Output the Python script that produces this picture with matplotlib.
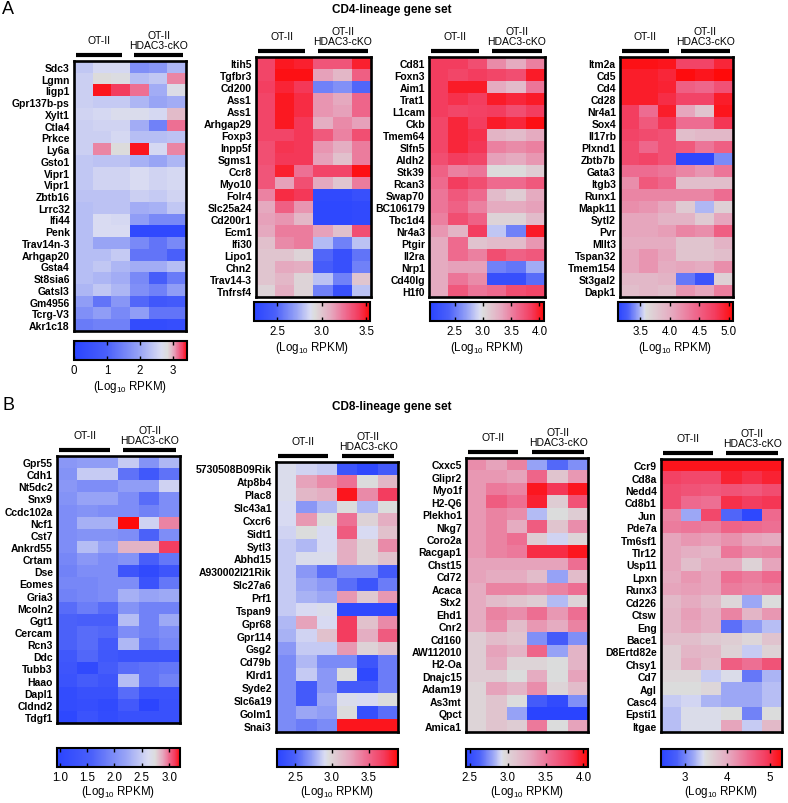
import numpy as np
import matplotlib
matplotlib.use('Agg')
import matplotlib.pyplot as plt
from matplotlib.colors import LinearSegmentedColormap, Normalize
from matplotlib.lines import Line2D
from matplotlib.cm import ScalarMappable

plt.rcParams['font.family'] = ['Liberation Sans', 'DejaVu Sans']
plt.rcParams['mathtext.fontset'] = 'custom'
plt.rcParams['mathtext.rm'] = 'Liberation Sans'

# ---------------- data (log10 RPKM, 3 OT-II + 3 OT-II HDAC3-cKO) ----------------
a1_genes = ['Sdc3', 'Lgmn', 'Iigp1', 'Gpr137b-ps', 'Xylt1', 'Ctla4', 'Prkce', 'Ly6a',
            'Gsto1', 'Vipr1', 'Vipr1', 'Zbtb16', 'Lrrc32', 'Ifi44', 'Penk', 'Trav14n-3',
            'Arhgap20', 'Gsta4', 'St8sia6', 'Gatsl3', 'Gm4956', 'Tcrg-V3', 'Akr1c18']
a1_vals = [[2.4, 2.6, 2.6, 1.7, 1.8, 2.2],
           [2.5, 2.85, 2.8, 2.3, 2.4, 3.1],
           [2.5, 3.4, 3.3, 3.15, 2.1, 2.75],
           [2.5, 2.45, 2.45, 2.2, 2.0, 2.1],
           [2.55, 2.6, 2.7, 2.7, 2.6, 2.95],
           [2.5, 2.55, 2.55, 2.1, 1.5, 3.15],
           [2.5, 2.5, 2.6, 2.3, 2.3, 2.35],
           [2.5, 3.1, 2.85, 3.4, 2.6, 3.1],
           [2.4, 2.35, 2.35, 2.15, 2.0, 2.2],
           [2.4, 2.55, 2.55, 2.65, 2.55, 2.6],
           [2.4, 2.55, 2.55, 2.65, 2.55, 2.6],
           [2.35, 2.35, 2.35, 2.5, 2.45, 2.55],
           [2.3, 2.35, 2.35, 2.1, 2.15, 2.4],
           [2.3, 2.65, 2.6, 1.9, 1.6, 1.6],
           [2.3, 2.65, 2.65, 0.2, 0.2, 0.2],
           [2.3, 2.0, 2.0, 1.6, 1.3, 1.6],
           [2.3, 2.3, 2.45, 1.3, 1.3, 1.0],
           [2.3, 2.4, 2.2, 2.1, 2.1, 2.3],
           [2.3, 2.2, 2.1, 1.6, 0.9, 1.4],
           [2.2, 2.4, 2.2, 1.7, 1.5, 1.9],
           [1.9, 1.3, 1.8, 1.1, 0.7, 0.8],
           [1.7, 1.9, 1.6, 1.9, 1.3, 1.3],
           [1.4, 1.5, 1.5, 0.3, 0.3, 0.4]]

a2_genes = ['Itih5', 'Tgfbr3', 'Cd200', 'Ass1', 'Ass1', 'Arhgap29', 'Foxp3', 'Inpp5f',
            'Sgms1', 'Ccr8', 'Myo10', 'Folr4', 'Slc25a24', 'Cd200r1', 'Ecm1', 'Ifi30',
            'Lipo1', 'Chn2', 'Trav14-3', 'Tnfrsf4']
a2_vals = [[3.38, 3.5, 3.48, 3.33, 3.33, 3.48],
           [3.38, 3.52, 3.52, 3.12, 3.05, 3.3],
           [3.4, 3.47, 3.42, 2.6, 2.65, 2.5],
           [3.38, 3.5, 3.45, 3.15, 3.1, 3.28],
           [3.38, 3.5, 3.45, 3.15, 3.12, 3.28],
           [3.38, 3.5, 3.42, 3.08, 3.18, 3.12],
           [3.38, 3.38, 3.42, 3.32, 3.2, 3.35],
           [3.35, 3.43, 3.42, 3.15, 3.08, 3.22],
           [3.35, 3.42, 3.42, 3.12, 3.02, 3.22],
           [3.33, 3.48, 3.25, 3.38, 3.38, 3.52],
           [3.33, 3.12, 3.35, 3.1, 3.0, 3.22],
           [3.2, 3.45, 3.42, 2.3, 2.3, 2.35],
           [3.1, 3.3, 3.15, 2.28, 2.28, 2.3],
           [3.12, 3.15, 3.05, 2.28, 2.28, 2.3],
           [3.1, 3.22, 3.22, 3.12, 3.02, 3.35],
           [3.02, 3.18, 3.22, 2.78, 2.6, 2.8],
           [3.0, 3.0, 2.95, 2.5, 2.35, 2.55],
           [3.0, 3.1, 3.08, 2.45, 2.35, 2.6],
           [3.0, 3.05, 2.95, 2.8, 2.6, 3.0],
           [2.95, 3.08, 2.95, 2.6, 2.35, 2.8]]

a3_genes = ['Cd81', 'Foxn3', 'Aim1', 'Trat1', 'L1cam', 'Ckb', 'Tmem64', 'Slfn5', 'Aldh2',
            'Stk39', 'Rcan3', 'Swap70', 'BC106179', 'Tbc1d4', 'Nr4a3', 'Ptgir', 'Il2ra',
            'Nrp1', 'Cd40lg', 'H1f0']
a3_vals = [[3.85, 3.85, 3.75, 3.45, 3.3, 3.5],
           [3.85, 3.8, 3.85, 3.8, 3.75, 4.0],
           [3.85, 4.0, 4.0, 3.3, 3.2, 3.55],
           [3.85, 3.9, 3.85, 4.0, 3.95, 4.0],
           [3.85, 3.8, 3.82, 3.85, 3.75, 3.85],
           [3.8, 3.95, 3.85, 4.0, 3.95, 4.05],
           [3.8, 3.95, 3.9, 3.25, 3.2, 3.3],
           [3.8, 3.95, 3.88, 3.5, 3.45, 3.5],
           [3.75, 3.85, 3.8, 3.35, 3.3, 3.4],
           [3.65, 3.5, 3.55, 3.0, 3.0, 3.1],
           [3.6, 3.85, 3.75, 3.6, 3.6, 3.7],
           [3.55, 3.7, 3.6, 3.2, 3.1, 3.3],
           [3.55, 3.65, 3.5, 3.3, 3.3, 3.35],
           [3.5, 3.75, 3.65, 3.05, 3.05, 3.2],
           [3.4, 3.25, 3.85, 2.85, 2.55, 4.0],
           [3.3, 3.6, 3.15, 3.2, 3.2, 3.4],
           [3.3, 3.6, 3.5, 3.75, 3.65, 3.7],
           [3.3, 3.35, 3.35, 2.55, 2.5, 2.75],
           [3.3, 3.55, 3.45, 2.2, 2.2, 2.45],
           [3.3, 3.7, 3.55, 3.6, 3.75, 3.8]]

a4_genes = ['Itm2a', 'Cd5', 'Cd4', 'Cd28', 'Nr4a1', 'Sox4', 'Il17rb', 'Plxnd1', 'Zbtb7b',
            'Gata3', 'Itgb3', 'Runx1', 'Mapk11', 'Sytl2', 'Pvr', 'Mllt3', 'Tspan32',
            'Tmem154', 'St3gal2', 'Dapk1']
a4_vals = [[5.02, 5.02, 5.0, 4.7, 4.7, 4.9],
           [4.95, 4.95, 4.9, 5.05, 5.0, 5.07],
           [4.95, 4.95, 4.92, 4.5, 4.45, 4.6],
           [4.95, 4.95, 4.85, 4.7, 4.7, 4.95],
           [4.75, 4.4, 4.95, 4.05, 3.8, 5.0],
           [4.75, 4.55, 4.8, 4.4, 4.4, 4.8],
           [4.7, 4.65, 4.6, 3.85, 3.9, 3.9],
           [4.65, 4.45, 4.6, 4.55, 4.35, 4.5],
           [4.65, 4.7, 4.6, 3.15, 3.15, 3.4],
           [4.4, 4.4, 4.35, 4.25, 4.15, 4.35],
           [4.2, 4.55, 4.45, 3.85, 3.85, 3.85],
           [4.25, 4.25, 4.25, 4.25, 4.25, 4.4],
           [4.2, 4.15, 4.05, 3.75, 3.5, 3.7],
           [4.05, 4.05, 3.95, 3.95, 3.75, 4.05],
           [4.05, 4.05, 4.1, 4.25, 4.2, 4.5],
           [4.0, 4.0, 4.0, 3.8, 3.8, 3.95],
           [4.05, 4.15, 4.05, 3.8, 3.8, 3.85],
           [4.05, 4.15, 4.0, 4.05, 4.0, 4.2],
           [3.9, 3.9, 3.95, 3.35, 3.22, 3.7],
           [3.85, 3.9, 3.85, 4.15, 4.05, 4.3]]

b1_genes = ['Gpr55', 'Cdh1', 'Nt5dc2', 'Snx9', 'Ccdc102a', 'Ncf1', 'Cst7', 'Ankrd55',
            'Crtam', 'Dse', 'Eomes', 'Gria3', 'Mcoln2', 'Ggt1', 'Cercam', 'Rcn3', 'Ddc',
            'Tubb3', 'Haao', 'Dapl1', 'Cldnd2', 'Tdgf1']
b1_vals = [[2.1, 2.15, 2.15, 2.5, 2.05, 2.35],
           [2.05, 2.5, 2.5, 1.75, 1.4, 1.75],
           [2.1, 2.0, 2.0, 2.15, 2.15, 2.55],
           [2.05, 2.2, 2.2, 2.0, 1.7, 2.0],
           [2.0, 2.05, 2.0, 2.0, 1.9, 2.0],
           [2.0, 2.3, 2.3, 3.2, 2.55, 2.95],
           [2.0, 2.05, 2.05, 2.0, 1.6, 2.0],
           [2.0, 2.4, 2.2, 2.85, 2.85, 3.1],
           [1.95, 2.1, 2.0, 2.05, 1.55, 1.8],
           [1.9, 2.0, 2.0, 1.35, 1.1, 1.35],
           [1.95, 1.95, 2.0, 2.0, 1.3, 1.8],
           [1.9, 1.95, 2.0, 2.3, 2.2, 2.25],
           [1.7, 1.85, 1.7, 2.05, 1.9, 1.9],
           [1.6, 1.55, 1.55, 2.4, 1.9, 2.25],
           [1.6, 1.7, 1.65, 2.0, 1.9, 2.0],
           [1.6, 1.7, 1.45, 2.35, 1.8, 1.95],
           [1.4, 1.65, 1.4, 1.3, 1.3, 1.3],
           [1.35, 1.1, 1.5, 1.7, 1.75, 1.8],
           [1.3, 1.5, 1.35, 2.4, 1.75, 1.9],
           [1.15, 1.25, 1.25, 1.7, 1.3, 1.3],
           [1.15, 1.2, 1.1, 1.45, 1.0, 1.25],
           [1.05, 1.3, 1.15, 1.25, 1.25, 1.25]]

b2_genes = ['5730508B09Rik', 'Atp8b4', 'Plac8', 'Slc43a1', 'Cxcr6', 'Sidt1', 'Sytl3',
            'Abhd15', 'A930002I21Rik', 'Slc27a6', 'Prf1', 'Tspan9', 'Gpr68', 'Gpr114',
            'Gsg2', 'Cd79b', 'Klrd1', 'Syde2', 'Slc6a19', 'Golm1', 'Snai3']
b2_vals = [[2.92, 2.88, 2.85, 2.4, 2.3, 2.45],
           [2.92, 3.25, 3.35, 3.45, 2.95, 3.15],
           [2.92, 3.15, 3.2, 3.85, 3.35, 3.7],
           [2.9, 2.7, 2.8, 2.95, 2.8, 2.95],
           [2.9, 3.3, 2.95, 3.45, 3.0, 3.2],
           [2.88, 2.95, 2.9, 3.55, 2.9, 3.1],
           [2.85, 2.8, 2.9, 3.2, 3.0, 3.35],
           [2.85, 2.92, 2.92, 3.2, 3.0, 3.1],
           [2.85, 2.7, 2.55, 2.65, 2.65, 2.45],
           [2.85, 2.75, 2.7, 2.55, 2.4, 2.6],
           [2.85, 2.78, 2.75, 3.3, 3.05, 3.3],
           [2.85, 2.9, 2.92, 2.3, 2.3, 2.3],
           [2.8, 3.25, 2.9, 3.7, 3.1, 3.35],
           [2.78, 2.88, 3.1, 3.7, 3.2, 3.55],
           [2.7, 2.85, 2.85, 3.3, 3.0, 3.1],
           [2.65, 2.8, 2.65, 2.65, 2.4, 2.6],
           [2.65, 2.85, 2.7, 2.95, 2.3, 2.6],
           [2.65, 2.45, 2.7, 2.45, 2.45, 2.6],
           [2.65, 2.45, 2.75, 2.92, 2.9, 2.95],
           [2.65, 2.75, 2.72, 2.95, 2.35, 2.55],
           [2.65, 2.6, 2.65, 3.85, 3.85, 3.85]]

b3_genes = ['Cxxc5', 'Glipr2', 'Myo1f', 'H2-Q6', 'Plekho1', 'Nkg7', 'Coro2a', 'Racgap1',
            'Chst15', 'Cd72', 'Acaca', 'Stx2', 'Ehd1', 'Cnr2', 'Cd160', 'AW112010', 'H2-Oa',
            'Dnajc15', 'Adam19', 'As3mt', 'Qpct', 'Amica1']
b3_vals = [[3.4, 3.3, 3.45, 2.8, 2.65, 2.75],
           [3.35, 3.35, 3.3, 3.6, 3.1, 3.35],
           [3.35, 3.5, 3.45, 4.0, 3.85, 4.0],
           [3.35, 3.65, 3.55, 3.95, 3.05, 3.7],
           [3.35, 3.45, 3.4, 2.85, 2.95, 3.05],
           [3.35, 3.45, 3.25, 3.65, 3.1, 3.4],
           [3.35, 3.45, 3.55, 3.05, 2.9, 3.0],
           [3.35, 3.45, 3.5, 3.9, 3.9, 4.0],
           [3.3, 3.3, 3.3, 3.3, 3.3, 3.55],
           [3.3, 3.25, 3.25, 3.15, 2.8, 3.15],
           [3.25, 3.45, 3.45, 3.4, 3.45, 3.55],
           [3.25, 3.15, 3.1, 3.05, 2.85, 3.0],
           [3.25, 3.45, 3.4, 3.55, 3.35, 3.55],
           [3.25, 3.4, 3.15, 3.35, 3.25, 3.45],
           [3.05, 3.15, 3.1, 2.75, 2.6, 2.75],
           [3.05, 3.3, 3.2, 3.6, 2.8, 3.2],
           [3.05, 3.25, 3.0, 3.0, 2.95, 3.2],
           [3.05, 3.05, 2.95, 3.25, 2.95, 3.3],
           [3.0, 3.3, 3.2, 3.4, 3.0, 3.15],
           [3.0, 3.1, 2.95, 2.6, 2.5, 2.75],
           [3.0, 3.1, 2.8, 2.45, 2.45, 2.45],
           [3.0, 3.1, 3.05, 3.5, 2.95, 3.3]]

b4_genes = ['Ccr9', 'Cd8a', 'Nedd4', 'Cd8b1', 'Jun', 'Pde7a', 'Tm6sf1', 'Tlr12', 'Usp11',
            'Lpxn', 'Runx3', 'Cd226', 'Ctsw', 'Eng', 'Bace1', 'D8Ertd82e', 'Chsy1', 'Cd7',
            'Agl', 'Casc4', 'Epsti1', 'Itgae']
b4_vals = [[5.2, 5.2, 5.2, 5.2, 5.2, 5.2],
           [4.85, 4.8, 4.8, 5.1, 5.0, 5.1],
           [4.75, 4.7, 4.65, 4.7, 4.65, 4.75],
           [4.75, 4.5, 4.45, 5.0, 4.9, 4.95],
           [4.3, 3.2, 4.8, 2.85, 2.5, 4.5],
           [4.35, 4.4, 4.35, 4.55, 4.5, 4.45],
           [4.05, 4.15, 4.1, 4.2, 4.05, 4.0],
           [4.05, 3.95, 3.9, 4.4, 4.25, 4.3],
           [4.05, 3.8, 4.0, 4.0, 3.6, 4.05],
           [4.0, 4.15, 4.05, 4.45, 4.35, 4.5],
           [4.05, 4.1, 4.05, 4.35, 4.3, 4.35],
           [3.85, 4.0, 3.85, 3.55, 3.2, 3.5],
           [3.9, 4.1, 3.95, 4.3, 3.9, 4.15],
           [3.9, 4.05, 3.95, 2.9, 3.15, 3.3],
           [3.8, 3.8, 3.7, 3.65, 3.55, 3.75],
           [3.65, 3.9, 3.85, 3.6, 3.35, 3.6],
           [3.65, 4.0, 3.8, 4.6, 4.45, 4.7],
           [3.55, 3.55, 3.35, 3.45, 2.95, 3.25],
           [3.5, 3.5, 3.55, 3.2, 3.2, 3.3],
           [3.35, 3.4, 3.25, 3.2, 3.2, 3.3],
           [3.3, 3.45, 3.45, 3.5, 3.0, 3.5],
           [3.3, 3.45, 3.45, 4.05, 3.35, 3.85]]

# colour scale: (vmin, grey centre, vmax, ticks, tick labels)
a1_scale = (0.0, 2.85, 3.43, [0, 1, 2, 3], ['0', '1', '2', '3'])
a2_scale = (2.24, 2.92, 3.54, [2.5, 3.0, 3.5], ['2.5', '3.0', '3.5'])
a3_scale = (2.06, 3.0, 4.08, [2.5, 3.0, 3.5, 4.0], ['2.5', '3.0', '3.5', '4.0'])
a4_scale = (3.12, 3.6, 5.07, [3.5, 4.0, 4.5, 5.0], ['3.5', '4.0', '4.5', '5.0'])
b1_scale = (0.95, 2.75, 3.2, [1.0, 1.5, 2.0, 2.5, 3.0], ['1.0', '1.5', '2.0', '2.5', '3.0'])
b2_scale = (2.25, 2.95, 3.9, [2.5, 3.0, 3.5], ['2.5', '3.0', '3.5'])
b3_scale = (2.45, 2.95, 4.06, [2.5, 3.0, 3.5, 4.0], ['2.5', '3.0', '3.5', '4.0'])
b4_scale = (2.44, 3.5, 5.28, [3, 4, 5], ['3', '4', '5'])

W, H = 788, 804
fig = plt.figure(figsize=(W / 100, H / 100), dpi=100)


def fbox(x0, y0, x1, y1):
    return [x0 / W, 1 - y1 / H, (x1 - x0) / W, (y1 - y0) / H]


def make_cmap(vmin, vc, vmax):
    c = (vc - vmin) / (vmax - vmin)
    u = 1 - c
    nodes = [(0.0, '#2a44ff'), (0.35 * c, '#4a60fa'), (0.7 * c, '#98a4f6'),
             (0.93 * c, '#dadcf2'), (c, '#dcdcdc'), (c + 0.3 * u, '#e6a8bf'),
             (c + 0.55 * u, '#ee6c91'), (c + 0.8 * u, '#f43b5d'), (1.0, '#ff0a0a')]
    return LinearSegmentedColormap.from_list('rb', nodes)


def heatmap(genes, vals, scale, hm, cb, label_gap):
    vmin, vc, vmax, ticks, tlabels = scale
    cmap = make_cmap(vmin, vc, vmax)
    norm = Normalize(vmin, vmax)
    data = np.array(vals)
    ax = fig.add_axes(fbox(*hm))
    ax.imshow(data, aspect='auto', cmap=cmap, norm=norm, interpolation='nearest')
    ax.set_xticks([])
    ax.set_yticks(range(len(genes)))
    ax.set_yticklabels(genes, fontsize=7.5, fontweight='bold')
    ax.tick_params(axis='y', length=0, pad=3)
    for s in ax.spines.values():
        s.set_linewidth(1.9)

    # group bars and labels
    x0, y0, x1, y1 = hm
    w = x1 - x0
    for a, b in [(0.02, 0.43), (0.54, 0.97)]:
        fig.add_artist(Line2D([(x0 + a * w) / W, (x0 + b * w) / W],
                              [1 - (y0 - 6) / H] * 2, color='black', lw=3,
                              solid_capstyle='butt'))
    fig.text((x0 + 0.225 * w) / W, 1 - (y0 - 21) / H, 'OT-II', ha='center',
             va='center', fontsize=7.5)
    fig.text((x0 + 0.755 * w) / W, 1 - (y0 - 21) / H, 'OT-II\nHDAC3-cKO',
             ha='center', va='center', fontsize=7.5, linespacing=1.1)

    cax = fig.add_axes(fbox(*cb))
    cbar = fig.colorbar(ScalarMappable(norm=norm, cmap=cmap), cax=cax,
                        orientation='horizontal', ticks=ticks)
    cbar.ax.set_xticklabels(tlabels, fontsize=8.3)
    cbar.outline.set_linewidth(1.5)
    cax.tick_params(axis='x', direction='in', length=3, width=1, top=True,
                    bottom=True, pad=3)
    fig.text((cb[0] + cb[2]) / 2 / W, 1 - (cb[3] + label_gap) / H,
             '(Log$_{10}$ RPKM)', fontsize=8.3, ha='center', va='center')
    return ax


heatmap(a1_genes, a1_vals, a1_scale, (74, 62, 186, 332), (74, 342, 187, 361), 26)
heatmap(a2_genes, a2_vals, a2_scale, (256, 58, 371, 298), (254, 303, 370, 322), 26)
heatmap(a3_genes, a3_vals, a3_scale, (429, 58, 545, 298), (430, 303, 544, 322), 26)
heatmap(a4_genes, a4_vals, a4_scale, (620, 58, 733, 298), (618, 303, 733, 322), 26)
heatmap(b1_genes, b1_vals, b1_scale, (57, 457, 180, 724), (57, 749, 180, 768), 24)
heatmap(b2_genes, b2_vals, b2_scale, (276, 463, 398, 733), (277, 750, 398, 768), 24)
heatmap(b3_genes, b3_vals, b3_scale, (466, 459, 588, 733), (466, 750, 588, 768), 24)
heatmap(b4_genes, b4_vals, b4_scale, (661, 460, 782, 733), (661, 750, 782, 768), 24)

fig.text(2 / W, 1 - 9 / H, 'A', fontsize=13, va='center')
fig.text(2 / W, 1 - 406 / H, 'B', fontsize=13, va='center')
fig.text(392 / W, 1 - 10 / H, 'CD4-lineage gene set', fontsize=8.5,
         fontweight='bold', ha='center', va='center')
fig.text(392 / W, 1 - 407 / H, 'CD8-lineage gene set', fontsize=8.5,
         fontweight='bold', ha='center', va='center')

fig.savefig('out.png', dpi=100)
